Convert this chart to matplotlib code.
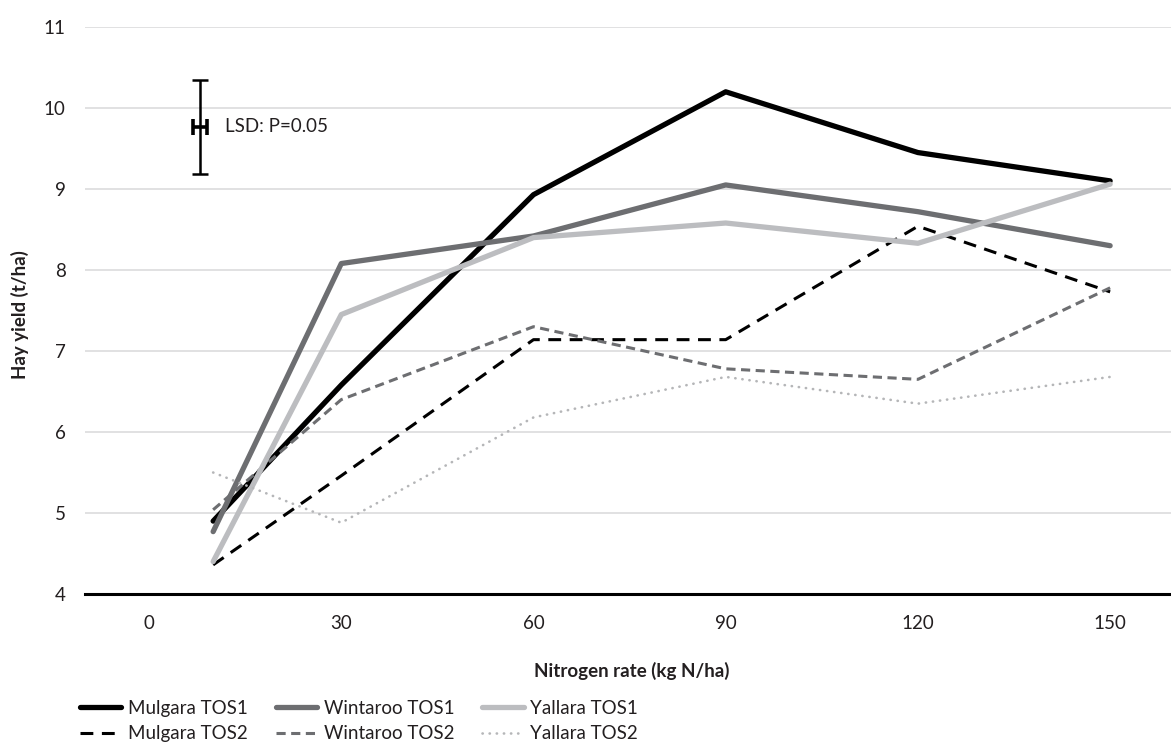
import matplotlib
matplotlib.use('Agg')
import matplotlib.pyplot as plt

# nitrogen rates (first application was ~10 kg N/ha) and axis ticks
nitrogen = [10, 30, 60, 90, 120, 150]
tick_vals = [0, 30, 60, 90, 120, 150]

# hay yield (t/ha)
mulgara_tos1 = [4.90, 6.58, 8.93, 10.20, 9.45, 9.10]
wintaroo_tos1 = [4.77, 8.08, 8.42, 9.05, 8.72, 8.30]
yallara_tos1 = [4.40, 7.45, 8.40, 8.58, 8.33, 9.06]
mulgara_tos2 = [4.36, 5.46, 7.14, 7.14, 8.54, 7.73]
wintaroo_tos2 = [5.04, 6.40, 7.30, 6.78, 6.65, 7.78]
yallara_tos2 = [5.50, 4.88, 6.18, 6.68, 6.35, 6.68]

# LSD bar
lsd_x = 8
lsd_mid = 9.77
lsd = 1.16

plt.rcParams['font.family'] = ['Lato', 'DejaVu Sans']
txt = '#231f20'

fig = plt.figure(figsize=(11.71, 7.47), dpi=100)
ax = fig.add_axes([85/1171, 1 - 594/747, 1 - 85/1171, (594 - 27)/747])

ax.plot(nitrogen, mulgara_tos1, color='black', lw=3.8, solid_capstyle='round',
        label='Mulgara TOS1')
ax.plot(nitrogen, mulgara_tos2, color='black', lw=2.2, ls=(0, (4.2, 2.8)),
        label='Mulgara TOS2')
ax.plot(nitrogen, wintaroo_tos1, color='#6d6e71', lw=3.8, solid_capstyle='round',
        label='Wintaroo TOS1')
ax.plot(nitrogen, wintaroo_tos2, color='#6d6e71', lw=2.2, ls=(0, (3, 1.8)),
        label='Wintaroo TOS2')
ax.plot(nitrogen, yallara_tos1, color='#bcbdc0', lw=3.8, solid_capstyle='round',
        label='Yallara TOS1')
ax.plot(nitrogen, yallara_tos2, color='#b5b6b8', lw=1.9, ls=(0, (0.1, 2.6)),
        dash_capstyle='round', label='Yallara TOS2')

# LSD error bar
ax.errorbar([lsd_x], [lsd_mid], yerr=lsd/2, color='black', elinewidth=1.8,
            capsize=5.8, capthick=1.8, fmt='none')
ax.errorbar([lsd_x], [lsd_mid], xerr=1.1, color='black', elinewidth=2.6,
            capsize=5.5, capthick=2.6, fmt='none')
ax.text(lsd_x + 3.8, lsd_mid, 'LSD: P=0.05', fontsize=13.5, color=txt, va='center')

ax.set_xlim(-10, 159.5)
ax.set_ylim(4, 11)
ax.set_xticks(tick_vals)
ax.set_yticks(range(4, 12))
ax.grid(axis='y', color='#d9d9da', lw=1.1)
ax.set_axisbelow(True)
for s in ['top', 'right', 'left']:
    ax.spines[s].set_visible(False)
ax.spines['bottom'].set_linewidth(2.2)
ax.spines['bottom'].set_color('black')
ax.tick_params(length=0, labelsize=13.5, labelcolor=txt)
ax.tick_params(axis='x', pad=15)
ax.tick_params(axis='y', pad=14)

fig.text(20/1171, 1 - 315/747, 'Hay yield (t/ha)', rotation=90, fontsize=13.5,
         fontweight='bold', color=txt, ha='center', va='center')
fig.text(632/1171, 1 - 671/747, 'Nitrogen rate (kg N/ha)', fontsize=13.5,
         fontweight='bold', color=txt, ha='center', va='center')

fig.legend(loc='upper left', bbox_to_anchor=(80/1171, 1 - 700/747), ncol=3,
           frameon=False, fontsize=13.5, handlelength=2.2, handletextpad=0.35,
           columnspacing=1.5, labelspacing=0.45, borderpad=0, borderaxespad=0,
           labelcolor=txt)

fig.savefig('out.png', dpi=100)
